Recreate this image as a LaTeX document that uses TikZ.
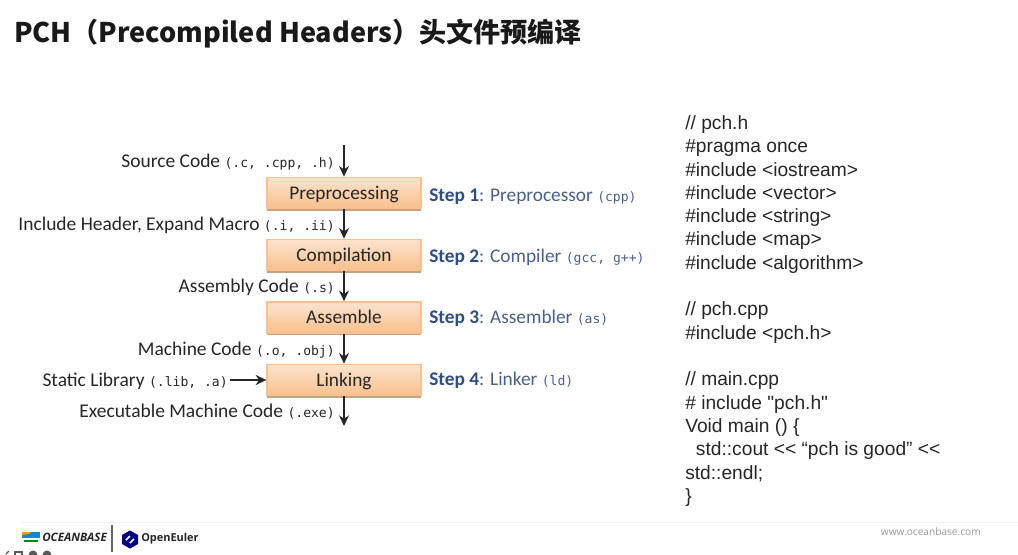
\documentclass[tikz,border=0pt]{standalone}
\usepackage{fontspec}
\setmainfont{Carlito}
\setmonofont{DejaVu Sans Mono}
\newfontfamily\codefont{Liberation Sans}
\newfontfamily\titlefont{Noto Sans CJK SC}
\newfontfamily\brandfont{Open Sans}
\definecolor{stepblue}{HTML}{2F4E7E}
\definecolor{stepgray}{HTML}{4A6088}
\definecolor{lab}{HTML}{262626}
\definecolor{boxedge}{HTML}{F8C090}
\definecolor{boxtop}{HTML}{FBE3CE}
\definecolor{boxmid}{HTML}{FFF6EE}
\definecolor{boxbot}{HTML}{FAC08C}
\definecolor{boxshade}{HTML}{B98A62}
\newcommand{\mono}[1]{{\fontsize{9.8pt}{11pt}\ttfamily #1}}
\usetikzlibrary{arrows.meta,shadows}
\tikzset{
  x=0.75pt,y=-0.75pt,
  flowbox/.style={rectangle,minimum width=115.5pt,minimum height=23.5pt,inner sep=0pt,draw=boxedge,line width=1pt,
    text height=9.7pt,text depth=0pt,
    top color=boxtop,middle color=boxmid,bottom color=boxbot,text=lab,font=\fontsize{14.5pt}{16pt}\selectfont,
    drop shadow={shadow xshift=0pt,shadow yshift=-1.5pt,fill=boxshade,opacity=.8}},
  lbl/.style={anchor=base east,inner sep=0pt,text=lab,font=\fontsize{14.6pt}{16pt}\selectfont},
  steplbl/.style={anchor=base west,inner sep=0pt,text=stepgray,font=\fontsize{14.5pt}{16pt}\selectfont},
  flow/.style={draw=black!85,line width=1.1pt,-{Stealth[length=8pt,width=7.5pt]}},
  code/.style={anchor=base west,inner sep=0pt,text=black!85,font=\fontsize{14.4pt}{16pt}\codefont},
}
\begin{document}
\begin{tikzpicture}
\useasboundingbox (0,0) rectangle (1018,554);
\fill[white] (0,0) rectangle (1018,554);
\node[anchor=west,inner sep=0pt,font=\fontsize{20.3pt}{22pt}\titlefont\bfseries,text=black!90] (title) at (14,33.500) {PCH（Precompiled Headers）头文件预编译};

\node[flowbox] (pre) at (344,193) {Preprocessing};
\node[flowbox] (com) at (344,255) {Compilation};
\node[flowbox] (asm) at (344,317.5) {Assemble};
\node[flowbox] (lnk) at (344,380) {Linking};
\coordinate (src) at (344,145);
\coordinate (exe) at (344,426);
\coordinate (lib) at (230,380);
\draw[flow] (src) -- (pre);
\draw[flow] (pre) -- (com);
\draw[flow] (com) -- (asm);
\draw[flow] (asm) -- (lnk);
\draw[flow] (lnk) -- (exe);
\draw[flow] (lib) -- (lnk);

\node[lbl] (l1) at (335,167) {Source Code \mono{(.c, .cpp, .h)}};
\node[lbl] (l2) at (335,230) {Include Header, Expand Macro \mono{(.i, .ii)}};
\node[lbl] (l3) at (335,292) {Assembly Code \mono{(.s)}};
\node[lbl] (l4) at (335,355) {Machine Code \mono{(.o, .obj)}};
\node[lbl] (l5) at (228,386) {Static Library \mono{(.lib, .a)}};
\node[lbl] (l6) at (335,417) {Executable Machine Code \mono{(.exe)}};

\node[steplbl] (s1) at (429,201) {\textcolor{stepblue}{\textbf{Step 1}}: Preprocessor \mono{(cpp)}};
\node[steplbl] (s2) at (429,262) {\textcolor{stepblue}{\textbf{Step 2}}: Compiler \mono{(gcc, g++)}};
\node[steplbl] (s3) at (429,323) {\textcolor{stepblue}{\textbf{Step 3}}: Assembler \mono{(as)}};
\node[steplbl] (s4) at (429,385) {\textcolor{stepblue}{\textbf{Step 4}}: Linker \mono{(ld)}};

\node[code] (c1) at (685,129.500) {// pch.h};
\node[code] (c2) at (685,152.500) {\#pragma once};
\node[code] (c3) at (685,176) {\#include <iostream>};
\node[code] (c4) at (685,199) {\#include <vector>};
\node[code] (c5) at (685,222) {\#include <string>};
\node[code] (c6) at (685,245.500) {\#include <map>};
\node[code] (c7) at (685,269) {\#include <algorithm>};
\node[code] (c8) at (685,315.500) {// pch.cpp};
\node[code] (c9) at (685,339) {\#include <pch.h>};
\node[code] (c10) at (685,385.500) {// main.cpp};
\node[code] (c11) at (685,409) {\# include "pch.h"};
\node[code] (c12) at (685,432) {Void main () \{};
\node[code] (c13) at (685,455) {\ \ std::cout << “pch is good” <<};
\node[code] (c14) at (685,479) {std::endl;};
\node[code] (c15) at (685,502) {\}};

% footer
\draw[black!6,line width=.7pt] (22,522) -- (1018,522);
\fill[cyan!70!blue] (22,532) rectangle (40,538);
\fill[orange!80!yellow] (22,532) -- (31,532) -- (29,534) -- (22,535) -- cycle;
\fill[green!55!black] (24,540) rectangle (38,542);
\node[anchor=west,inner sep=0pt,font=\fontsize{8.7pt}{9pt}\brandfont\bfseries\itshape,text=black!85] (ob) at (42,537) {OCEANBASE};
\draw[black!60,line width=1pt] (112,525) -- (112,552);
\fill[blue!50!black] (130,530.5) -- (138,535) -- (138,544) -- (130,548.5) -- (122,544) -- (122,535) -- cycle;
\draw[white,line width=1.2pt] (126,540) -- (130,536) (130,543) -- (134,539);
\node[anchor=west,inner sep=0pt,font=\fontsize{8.2pt}{9pt}\brandfont\bfseries,text=black!85] (oe) at (141,539) {OpenEuler};
\node[anchor=east,inner sep=0pt,font=\fontsize{7.6pt}{9pt}\brandfont,text=black!40] (web) at (981,532) {www.oceanbase.com};
\begin{scope}
\clip (0,0) rectangle (1018,554);
\draw[black!65,line width=1pt] (9,551) -- (6,554);
\draw[black!65,line width=1pt] (15,552) rectangle (22,558);
\fill[black!65] (33,555) circle (4.5);
\fill[black!65] (47,555) circle (4.5);
\end{scope}
\end{tikzpicture}
\end{document}
